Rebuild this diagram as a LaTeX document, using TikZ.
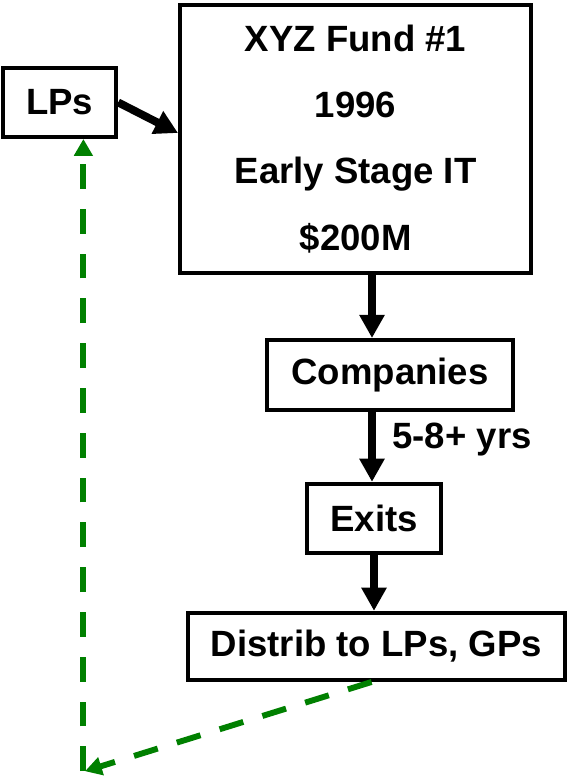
\documentclass[tikz,border=0pt]{standalone}
\usepackage{fontspec}
\setmainfont{Liberation Sans}
\usetikzlibrary{arrows.meta}
\colorlet{mygreen}{green!50!black}
\tikzset{
    every node/.style={font=\bfseries\fontsize{26}{47}\selectfont},
    box/.style={draw, line width=2.8pt, rectangle, inner sep=0pt},
    flow/.style={line width=5.6pt, -{Triangle[width=0.6cm,length=0.58cm]}},
    back/.style={mygreen, line width=4.2pt, dash pattern=on 0.62cm off 0.5cm,
        -{Triangle[width=0.45cm,length=0.42cm]}},
    label/.style={inner sep=0pt}
}
\begin{document}
\begin{tikzpicture}
\useasboundingbox (0,0) rectangle (14.225,-19.475);

\node[box, minimum width=2.83cm, minimum height=1.73cm] at (1.49,-2.56) (lps) {LPs};
\node[box, minimum width=8.78cm, minimum height=6.72cm, align=center] at (8.89,-3.475) (fund)
    {XYZ Fund \#1\\1996\\Early Stage IT\\\$200M};
\node[box, minimum width=6.15cm, minimum height=1.75cm] at (9.75,-9.375) (companies) {Companies};
\node[box, minimum width=3.35cm, minimum height=1.73cm] at (9.35,-12.96) (exits) {Exits};
\node[box, minimum width=9.43cm, minimum height=1.68cm] at (9.41,-16.16) (distrib) {Distrib to LPs, GPs};
\node[label] at (11.55,-11.0) (yrs) {5-8+ yrs};
\coordinate (corner) at (2.125,-19.28);

\draw[flow] (lps.east) -- ([yshift=0.15cm]fund.west);
\draw[flow] (fund.south -| 9.3,0) -- (companies.north -| 9.3,0);
\draw[flow] (companies.south -| 9.3,0) -- (exits.north -| 9.3,0);
\draw[flow] (exits.south) -- (distrib.north -| exits.south);

\draw[back] ([xshift=-0.12cm]distrib.south) -- (corner);
\draw[back] ([xshift=-0.04cm]corner) -- ([xshift=-0.04cm]corner |- lps.south);
\end{tikzpicture}
\end{document}
